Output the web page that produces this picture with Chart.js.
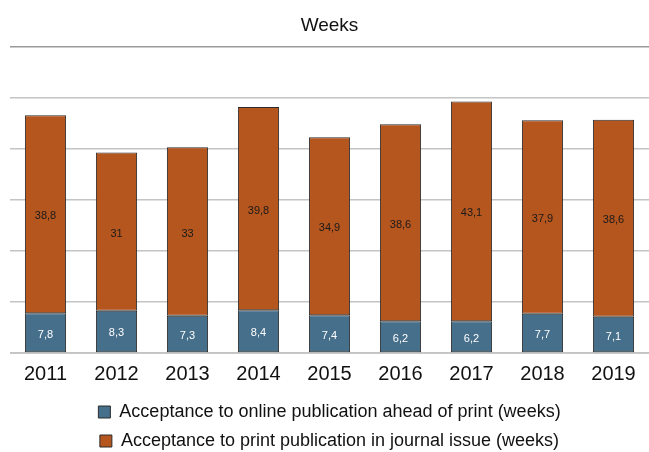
<!DOCTYPE html>
<html>
<head>
<meta charset="utf-8">
<script src="https://cdn.jsdelivr.net/npm/chart.js@4"></script>
<style>
  html, body { margin: 0; padding: 0; background: #fff; }
  #wrap { width: 649px; height: 452px; }
</style>
</head>
<body>
<div id="wrap"><canvas id="myChart" width="649" height="452"></canvas></div>
<script>
const years = ['2011', '2012', '2013', '2014', '2015', '2016', '2017', '2018', '2019']
const onlineWeeks = [7.8, 8.3, 7.3, 8.4, 7.4, 6.2, 6.2, 7.7, 7.1]
const printWeeks = [38.8, 31, 33, 39.8, 34.9, 38.6, 43.1, 37.9, 38.6]
const seriesNames = [
    'Acceptance to online publication ahead of print (weeks)',
    'Acceptance to print publication in journal issue (weeks)'
]

const font = '"Liberation Sans", Arial, Helvetica, sans-serif'

// labels inside each bar segment, decimal comma like the source
const barLabels = {
    id: 'barLabels',
    afterDatasetsDraw(chart) {
        const c = chart.ctx
        chart.data.datasets.forEach((ds, i) => {
            chart.getDatasetMeta(i).data.forEach((bar, j) => {
                const mid = (bar.y + bar.base) / 2
                c.save()
                c.font = '11px ' + font
                c.textAlign = 'center'
                c.textBaseline = 'middle'
                c.fillStyle = i === 0 ? '#ffffff' : '#1a1a1a'
                c.fillText(String(ds.data[j]).replace('.', ','), bar.x, mid + 2)
                c.restore()
            })
        })
    }
}

const ctx = document.getElementById('myChart').getContext('2d')
new Chart(ctx, {
    type: 'bar',
    data: {
        labels: years,
        datasets: [{
            label: seriesNames[0],
            data: onlineWeeks,
            backgroundColor: '#466f8b',
            borderColor: '#2b2b2b',
            borderWidth: 1,
            borderSkipped: false
        }, {
            label: seriesNames[1],
            data: printWeeks,
            backgroundColor: '#b5561f',
            borderColor: '#2b2b2b',
            borderWidth: 1,
            borderSkipped: false
        }]
    },
    options: {
        responsive: false,
        animation: false,
        layout: { padding: { left: 10, right: 0, top: 0, bottom: -8 } },
        datasets: { bar: { categoryPercentage: 0.58, barPercentage: 1 } },
        scales: {
            x: {
                stacked: true,
                grid: { display: false },
                border: { color: '#c8c8c8', width: 1 },
                ticks: { color: '#111', font: { family: font, size: 20 }, padding: 1 },
                afterFit: scale => { scale.height += 5 }
            },
            y: {
                stacked: true,
                min: 0,
                max: 60,
                ticks: { display: false, stepSize: 10 },
                border: { display: false },
                grid: {
                    drawTicks: false,
                    color: c => c.tick.value === 60 ? '#9a9a9a' : '#c4c4c4',
                    lineWidth: 1.5
                }
            }
        },
        plugins: {
            title: {
                display: true,
                text: 'Weeks',
                color: '#111',
                font: { family: font, size: 19, weight: 'normal' },
                padding: { top: 14, bottom: 10 }
            },
            legend: {
                position: 'bottom',
                labels: {
                    color: '#111',
                    font: { family: font, size: 18 },
                    boxWidth: 12,
                    boxHeight: 12,
                    padding: 11,
                    useBorderRadius: false
                }
            },
            tooltip: { enabled: false }
        }
    },
    plugins: [barLabels]
})
</script>
</body>
</html>
